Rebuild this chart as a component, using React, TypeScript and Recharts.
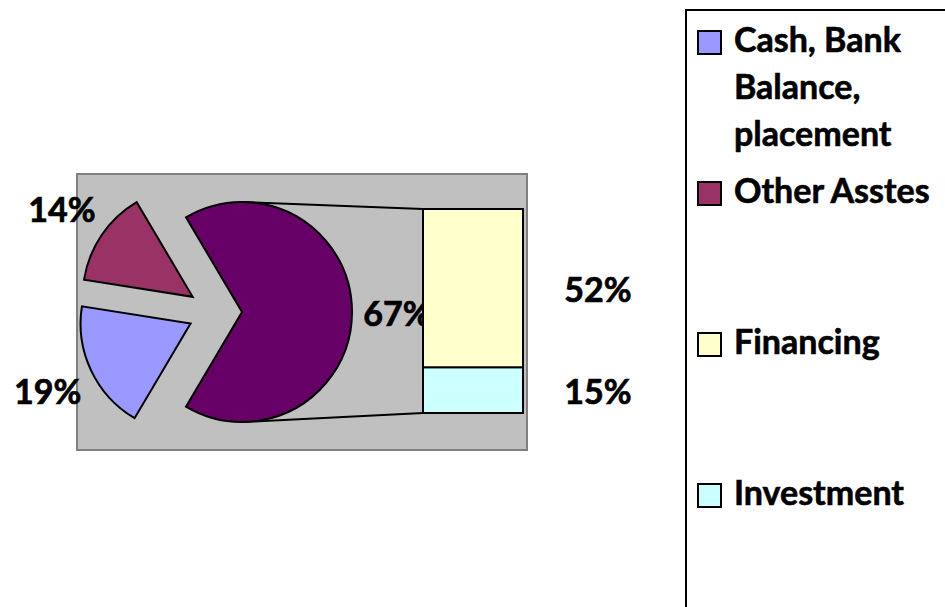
import React from "react";
import { PieChart, Pie, Cell, BarChart, Bar, XAxis, YAxis, LabelList } from "recharts";

// pie slices (the last one is split into the bar)
const pieNames = ["Cash, Bank Balance, placement", "Other Asstes"];
const pieValues = [19, 14];
const pieColors = ["#9999FF", "#993366"];
const otherColor = "#660066";

// bar breakdown of the "other" slice
const barNames = ["Financing", "Investment"];
const barValues = [52, 15];
const barColors = ["#FFFFCC", "#CCFFFF"];

const FONT = "Lato, 'Open Sans', sans-serif";
const W = 945;
const H = 607;
const FS = 34;

// layout
const PLOT = { x: 77, y: 174, w: 450, h: 276 };
const PIE_CX = 215;
const PIE_CY = 312;
const R = 110;
const EXPLODE = 27;
const LABEL_GAP = 48;
const BAR = { x: 423, y: 209, w: 100, h: 204 };

const otherTotal = barValues.reduce((a, b) => a + b, 0);
const pieData = [
  ...pieNames.map((name, i) => ({ name, value: pieValues[i], color: pieColors[i] })),
  { name: "Other", value: otherTotal, color: otherColor },
];
const total = pieData.reduce((a, d) => a + d.value, 0);
// the aggregated slice is centered on 0 deg (pointing at the bar)
const startAngle = ((total - otherTotal) / total) * 360 + (otherTotal / total) * 180;

const midAngles: number[] = [];
{
  let acc = startAngle;
  pieData.forEach((d) => {
    const sweep = (d.value / total) * 360;
    midAngles.push(acc - sweep / 2);
    acc -= sweep;
  });
}

const barRow = [
  barNames.reduce((row: Record<string, any>, n, i) => ({ ...row, [n]: barValues[i] }), { name: "Other" }),
];

const legendItems = [
  ...pieNames.map((name, i) => ({ name, color: pieColors[i] })),
  ...barNames.map((name, i) => ({ name, color: barColors[i] })),
];

const RAD = Math.PI / 180;

function SliceLabel(props: any) {
  const { cx, cy, midAngle, outerRadius, index, value } = props;
  const r = outerRadius + (index === pieData.length - 1 ? 45 : LABEL_GAP);
  const x = cx + r * Math.cos(-midAngle * RAD);
  const y = cy + r * Math.sin(-midAngle * RAD);
  if (index !== props.__show) return null;
  return (
    <text x={x} y={y} textAnchor="middle" dominantBaseline="central" fontFamily={FONT} fontWeight={700} fontSize={FS} fill="#000" stroke="#000" strokeWidth={0.7}>
      {`${value}%`}
    </text>
  );
}

function BarValueLabel(props: any) {
  const { x, y, width, height, value } = props;
  return (
    <text x={x + width + 75} y={y + height / 2} textAnchor="middle" dominantBaseline="central" fontFamily={FONT} fontWeight={700} fontSize={FS} fill="#000" stroke="#000" strokeWidth={0.7}>
      {`${value}%`}
    </text>
  );
}

export default function App() {
  const aggIdx = pieData.length - 1;
  const aggCx = PIE_CX + EXPLODE * Math.cos(midAngles[aggIdx] * RAD);
  const aggCy = PIE_CY - EXPLODE * Math.sin(midAngles[aggIdx] * RAD);

  return (
    <div style={{ position: "absolute", left: 0, top: 0, width: W, height: H, overflow: "hidden", background: "#fff" }}>
      <svg width={W} height={H} style={{ position: "absolute", left: 0, top: 0 }}>
        <rect x={PLOT.x} y={PLOT.y} width={PLOT.w} height={PLOT.h} fill="#C0C0C0" stroke="#808080" strokeWidth={2} />
        <line x1={aggCx} y1={aggCy - R} x2={BAR.x} y2={BAR.y} stroke="#000" strokeWidth={2} />
        <line x1={aggCx} y1={aggCy + R} x2={BAR.x} y2={BAR.y + BAR.h} stroke="#000" strokeWidth={2} />
      </svg>

      <div style={{ position: "absolute", left: 0, top: 0 }}>
        <PieChart width={W} height={H} margin={{ top: 0, right: 0, bottom: 0, left: 0 }}>
          {pieData.map((_, k) => (
            <Pie
              key={k}
              data={pieData}
              dataKey="value"
              nameKey="name"
              cx={PIE_CX + EXPLODE * Math.cos(midAngles[k] * RAD)}
              cy={PIE_CY - EXPLODE * Math.sin(midAngles[k] * RAD)}
              outerRadius={R}
              innerRadius={0}
              startAngle={startAngle}
              endAngle={startAngle - 360}
              isAnimationActive={false}
              labelLine={false}
              label={(p: any) => <SliceLabel {...p} __show={k} />}
            >
              {pieData.map((d, j) => (
                <Cell
                  key={j}
                  fill={j === k ? d.color : "none"}
                  stroke={j === k ? "#000" : "none"}
                  strokeWidth={2}
                />
              ))}
            </Pie>
          ))}
        </PieChart>
      </div>

      <div style={{ position: "absolute", left: BAR.x - 2, top: BAR.y - 2 }}>
        <BarChart
          width={BAR.w + 2 + 150}
          height={BAR.h + 4}
          data={barRow}
          margin={{ top: 2, right: 150, bottom: 2, left: 2 }}
          barCategoryGap={0}
        >
          <XAxis dataKey="name" hide />
          <YAxis hide domain={[0, otherTotal]} />
          {[...barNames].reverse().map((n) => {
            const i = barNames.indexOf(n);
            return (
              <Bar key={n} dataKey={n} stackId="a" fill={barColors[i]} stroke="#000" strokeWidth={2} isAnimationActive={false}>
                <LabelList dataKey={n} content={BarValueLabel} />
              </Bar>
            );
          })}
        </BarChart>
      </div>

      <div
        style={{
          position: "absolute",
          left: 685,
          top: 9,
          width: 300,
          height: 640,
          border: "2px solid #000",
          boxSizing: "border-box",
          fontFamily: FONT,
          fontWeight: 700,
          fontSize: FS,
          WebkitTextStroke: "0.6px #000",
        }}
      >
        {legendItems.map((it, i) => (
          <div key={it.name} style={{ position: "absolute", left: 10, top: 16 + i * 151, display: "flex", alignItems: "flex-start" }}>
            <div
              style={{
                width: 25,
                height: 25,
                marginTop: 3,
                background: it.color,
                border: "2px solid #000",
                boxSizing: "border-box",
                flex: "none",
              }}
            />
            <div style={{ marginLeft: 12, width: 215, lineHeight: "47px", marginTop: -12 }}>{it.name}</div>
          </div>
        ))}
      </div>
    </div>
  );
}
